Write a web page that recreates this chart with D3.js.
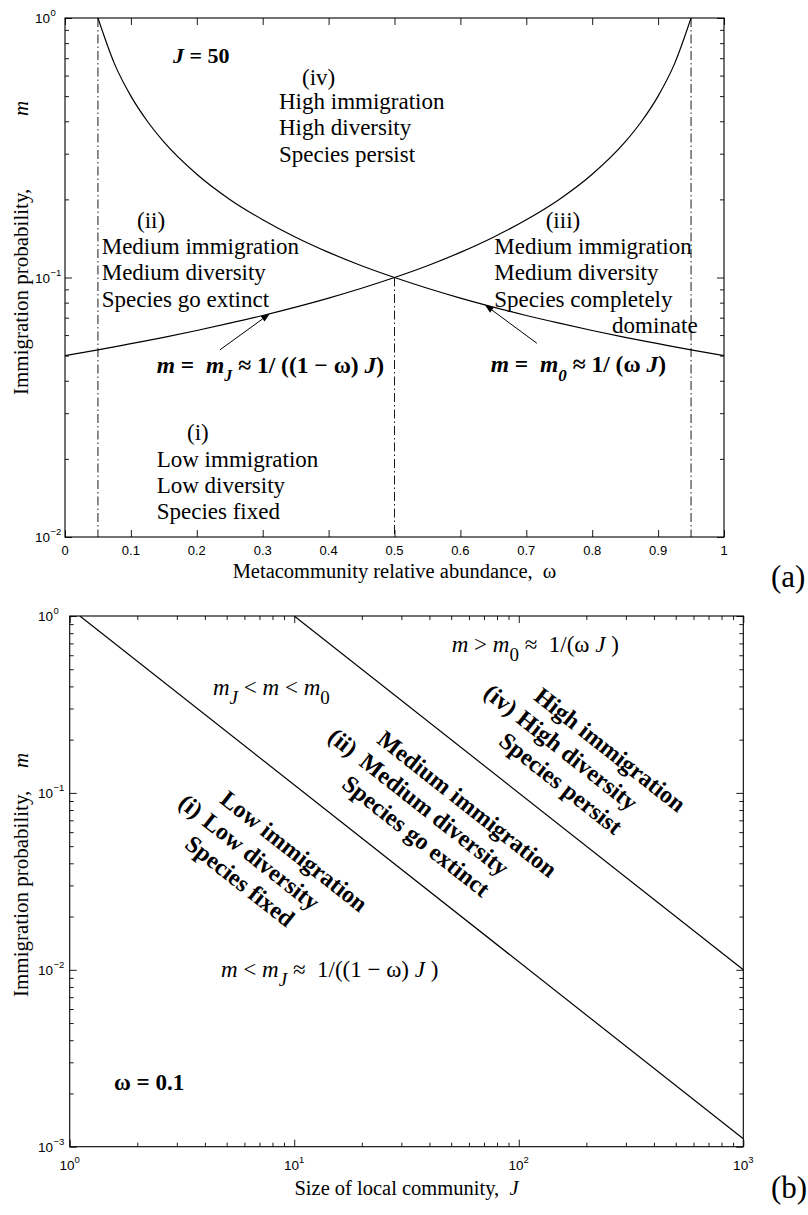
<!DOCTYPE html>
<html>
<head>
<meta charset="utf-8">
<script src="https://cdn.jsdelivr.net/npm/d3@7"></script>
<style>
  body { margin: 0; background: #fff; }
  svg { display: block; }
  text { white-space: pre; }
</style>
</head>
<body>
<svg id="fig" width="808" height="1215"></svg>
<script>
// ---------- Panel (a): immigration thresholds against metacommunity abundance ----------
const omegaRise = [0, 0.05, 0.1, 0.15, 0.2, 0.25, 0.3, 0.35, 0.4, 0.45, 0.5, 0.55, 0.6, 0.65, 0.7, 0.75, 0.8, 0.85, 0.875, 0.9, 0.925, 0.95];
const mJ        = [0.050, 0.0526, 0.0556, 0.0588, 0.0625, 0.0667, 0.0714, 0.0769, 0.0833, 0.0909, 0.100, 0.111, 0.125, 0.143, 0.167, 0.200, 0.250, 0.333, 0.400, 0.500, 0.667, 1.000];
const omegaFall = [0.05, 0.075, 0.1, 0.125, 0.15, 0.2, 0.25, 0.3, 0.35, 0.4, 0.45, 0.5, 0.55, 0.6, 0.65, 0.7, 0.75, 0.8, 0.85, 0.9, 0.95, 1.0];
const m0        = [1.000, 0.667, 0.500, 0.400, 0.333, 0.250, 0.200, 0.167, 0.143, 0.125, 0.111, 0.100, 0.0909, 0.0833, 0.0769, 0.0714, 0.0667, 0.0625, 0.0588, 0.0556, 0.0526, 0.050];
const guideOmega = [0.05, 0.5, 0.95];   // dash-dot verticals
const guideTop   = [1, 0.1, 1];          // each runs from here down to m = 0.01
const arrowJ = { from: [0.235, 0.0526], to: [0.311, 0.0726] };
const arrow0 = { from: [0.716, 0.0558], to: [0.637, 0.0785] };
const omegaTicks = [0, 0.1, 0.2, 0.3, 0.4, 0.5, 0.6, 0.7, 0.8, 0.9, 1];
const omegaTickLabels = ["0", "0.1", "0.2", "0.3", "0.4", "0.5", "0.6", "0.7", "0.8", "0.9", "1"];
const mDecadesA = [-2, -1, 0];

// ---------- Panel (b): thresholds against local community size (omega = 0.1) ----------
const sizeLow  = [1.11, 1000];
const mLow     = [1, 0.00111];
const sizeHigh = [10, 1000];
const mHigh    = [1, 0.01];
const sizeDecades = [0, 1, 2, 3];
const mDecadesB   = [-3, -2, -1, 0];

const SERIF = "'Liberation Serif','Times New Roman',Times,serif";
const SANS  = "'Liberation Sans',Arial,Helvetica,sans-serif";
const svg = d3.select("#fig");

// text built from styled runs: flags "it", "bd", "sub", "sup"
function rich(g, x, y, runs, o = {}) {
  const t = g.append("text").attr("x", x).attr("y", y)
    .attr("font-family", o.family || SERIF)
    .attr("font-size", o.size || 23)
    .attr("text-anchor", o.anchor || "start")
    .attr("fill", "#000");
  if (o.bold) t.attr("font-weight", "bold");
  if (o.transform) t.attr("transform", o.transform);
  let cur = 0;
  runs.forEach(([s, flags = ""]) => {
    const f = flags.split(" ");
    const sp = t.append("tspan").text(s);
    let off = 0;
    if (f.includes("sub")) off = o.subDy || 8;
    if (f.includes("sup")) off = -(o.supDy || 7);
    if (off !== cur) { sp.attr("dy", off - cur); cur = off; }
    if (f.includes("it")) sp.attr("font-style", "italic");
    if (f.includes("bd")) sp.attr("font-weight", "bold");
    if (f.includes("sub") || f.includes("sup")) sp.attr("font-size", o.subSize || 16);
  });
  return t;
}

function minorLog(decades) {
  const v = [];
  for (let i = 0; i < decades.length - 1; i++)
    for (let k = 2; k <= 9; k++) v.push(k * Math.pow(10, decades[i]));
  return v;
}

// inward ticks on all four sides, drawn with d3 axes
function boxTicks(g, x, y, w, h, spec) {
  const put = (axis, tr, vals, size) => {
    if (!vals.length) return;
    const a = g.append("g").attr("transform", tr)
      .call(axis.tickValues(vals).tickSize(size).tickFormat(""));
    a.select(".domain").remove();
    a.selectAll("line").attr("stroke", "#000").attr("stroke-width", 0.9);
  };
  [[spec.xMajor, -7], [spec.xMinor, -4]].forEach(([v, s]) => {
    put(d3.axisBottom(x), `translate(0,${h})`, v, s);
    put(d3.axisTop(x), `translate(0,0)`, v, s);
  });
  [[spec.yMajor, -7], [spec.yMinor, -4]].forEach(([v, s]) => {
    put(d3.axisLeft(y), `translate(0,0)`, v, s);
    put(d3.axisRight(y), `translate(${w},0)`, v, s);
  });
  g.append("rect").attr("width", w).attr("height", h)
    .attr("fill", "none").attr("stroke", "#000").attr("stroke-width", 1.1);
}

function arrow(g, p0, p1) {
  const dx = p1[0] - p0[0], dy = p1[1] - p0[1];
  const L = Math.hypot(dx, dy), ux = dx / L, uy = dy / L;
  const hl = 9, hw = 3.2;
  const bx = p1[0] - ux * hl, by = p1[1] - uy * hl;
  g.append("line").attr("x1", p0[0]).attr("y1", p0[1]).attr("x2", bx).attr("y2", by)
    .attr("stroke", "#000").attr("stroke-width", 1);
  g.append("path")
    .attr("d", `M${p1[0]},${p1[1]}L${bx - uy * hw},${by + ux * hw}L${bx + uy * hw},${by - ux * hw}Z`)
    .attr("fill", "#000");
}

// ================= Panel (a) =================
{
  const L = 65, T = 18, W = 659, H = 519;
  const g = svg.append("g").attr("transform", `translate(${L},${T})`);
  const x = d3.scaleLinear().domain([0, 1]).range([0, W]);
  const y = d3.scaleLog().domain([0.01, 1]).range([H, 0]);

  g.append("clipPath").attr("id", "clipA").append("rect").attr("width", W).attr("height", H);
  const plot = g.append("g").attr("clip-path", "url(#clipA)");

  // dash-dot guides
  guideOmega.forEach((w, i) => {
    plot.append("line").attr("x1", x(w)).attr("x2", x(w))
      .attr("y1", y(guideTop[i])).attr("y2", y(0.01))
      .attr("stroke", "#000").attr("stroke-width", 0.9)
      .attr("stroke-dasharray", "9,3,1.5,3");
  });

  const line = d3.line().x(d => x(d[0])).y(d => y(d[1])).curve(d3.curveMonotoneX);
  plot.append("path").datum(d3.zip(omegaRise, mJ)).attr("d", line)
    .attr("fill", "none").attr("stroke", "#000").attr("stroke-width", 1.2);
  plot.append("path").datum(d3.zip(omegaFall, m0)).attr("d", line)
    .attr("fill", "none").attr("stroke", "#000").attr("stroke-width", 1.2);

  boxTicks(g, x, y, W, H, {
    xMajor: omegaTicks, xMinor: [],
    yMajor: mDecadesA.map(d => Math.pow(10, d)), yMinor: minorLog(mDecadesA)
  });

  // tick labels
  omegaTicks.forEach((v, i) => {
    g.append("text").attr("x", x(v)).attr("y", H + 17.5).attr("text-anchor", "middle")
      .attr("font-family", SANS).attr("font-size", 13).text(omegaTickLabels[i]);
  });
  mDecadesA.forEach(d => {
    const yy = y(Math.pow(10, d));
    g.append("text").attr("x", -15).attr("y", yy + 5).attr("text-anchor", "end")
      .attr("font-family", SANS).attr("font-size", 13.5).text("10");
    g.append("text").attr("x", -14.5).attr("y", yy - 2).attr("text-anchor", "start")
      .attr("font-family", SANS).attr("font-size", 9.5).text(String(d).replace("-", "\u2212"));
  });

  // axis titles
  g.append("text").attr("x", W / 2).attr("y", 560).attr("text-anchor", "middle")
    .attr("font-family", SERIF).attr("font-size", 20.5)
    .text("Metacommunity relative abundance,  \u03c9");
  svg.append("text").attr("transform", "translate(28,395) rotate(-90)")
    .attr("font-family", SERIF).attr("font-size", 21).text("Immigration probability,");
  svg.append("text").attr("transform", "translate(28,116) rotate(-90)")
    .attr("font-family", SERIF).attr("font-size", 21).attr("font-style", "italic").text("m");

  // annotations
  rich(g, 108, 45, [["J", "it"], [" = 50"]], { bold: true, size: 22 });

  const block = (x0, y0, lines, lh) => lines.forEach((s, k) =>
    g.append("text").attr("x", x0).attr("y", y0 + k * lh)
      .attr("font-family", SERIF).attr("font-size", 23).text(s));

  g.append("text").attr("x", 237).attr("y", 66.5).attr("font-family", SERIF).attr("font-size", 23).text("(iv)");
  block(214, 91, ["High immigration", "High diversity", "Species persist"], 26.3);

  g.append("text").attr("x", 72).attr("y", 210).attr("font-family", SERIF).attr("font-size", 23).text("(ii)");
  block(36.7, 236, ["Medium immigration", "Medium diversity", "Species go extinct"], 26.3);

  g.append("text").attr("x", 480.7).attr("y", 210).attr("font-family", SERIF).attr("font-size", 23).text("(iii)");
  block(429.3, 236, ["Medium immigration", "Medium diversity", "Species completely"], 26.3);
  g.append("text").attr("x", 632.7).attr("y", 314.5).attr("text-anchor", "end")
    .attr("font-family", SERIF).attr("font-size", 23).text("dominate");

  g.append("text").attr("x", 122).attr("y", 421.5).attr("font-family", SERIF).attr("font-size", 23).text("(i)");
  block(91.7, 448.7, ["Low immigration", "Low diversity", "Species fixed"], 26.0);

  rich(g, 91.7, 355.3, [["m", "it"], [" =  "], ["m", "it"], ["J", "it sub"], [" \u2248 1/ ((1 \u2212 \u03c9) "], ["J", "it"], [")"]],
    { bold: true, size: 23.5, subSize: 16, subDy: 8 });
  rich(g, 425.7, 353.7, [["m", "it"], [" =  "], ["m", "it"], ["0", "it sub"], [" \u2248 1/ (\u03c9 "], ["J", "it"], [")"]],
    { bold: true, size: 23.5, subSize: 17, subDy: 9 });

  arrow(g, [x(arrowJ.from[0]), y(arrowJ.from[1])], [x(arrowJ.to[0]), y(arrowJ.to[1])]);
  arrow(g, [x(arrow0.from[0]), y(arrow0.from[1])], [x(arrow0.to[0]), y(arrow0.to[1])]);

  svg.append("text").attr("x", 771).attr("y", 587).attr("font-family", SERIF)
    .attr("font-size", 31).text("(a)");
}

// ================= Panel (b) =================
{
  const L = 69.7, T = 616, W = 673.6, H = 530.7;
  const g = svg.append("g").attr("transform", `translate(${L},${T})`);
  const x = d3.scaleLog().domain([1, 1000]).range([0, W]);
  const y = d3.scaleLog().domain([0.001, 1]).range([H, 0]);

  g.append("clipPath").attr("id", "clipB").append("rect").attr("width", W).attr("height", H);
  const plot = g.append("g").attr("clip-path", "url(#clipB)");
  const line = d3.line().x(d => x(d[0])).y(d => y(d[1]));
  plot.append("path").datum(d3.zip(sizeLow, mLow)).attr("d", line)
    .attr("fill", "none").attr("stroke", "#000").attr("stroke-width", 1.2);
  plot.append("path").datum(d3.zip(sizeHigh, mHigh)).attr("d", line)
    .attr("fill", "none").attr("stroke", "#000").attr("stroke-width", 1.2);

  boxTicks(g, x, y, W, H, {
    xMajor: sizeDecades.map(d => Math.pow(10, d)), xMinor: minorLog(sizeDecades),
    yMajor: mDecadesB.map(d => Math.pow(10, d)), yMinor: minorLog(mDecadesB)
  });

  sizeDecades.forEach(d => {
    const xx = x(Math.pow(10, d));
    const t = g.append("text").attr("x", xx).attr("y", H + 23.5).attr("text-anchor", "middle")
      .attr("font-family", SANS).attr("font-size", 13.5);
    t.append("tspan").text("10");
    t.append("tspan").attr("dy", -7).attr("font-size", 9.5).text(String(d));
  });
  mDecadesB.forEach(d => {
    const yy = y(Math.pow(10, d));
    g.append("text").attr("x", -16.7).attr("y", yy + 5).attr("text-anchor", "end")
      .attr("font-family", SANS).attr("font-size", 13.5).text("10");
    g.append("text").attr("x", -16.2).attr("y", yy - 2).attr("text-anchor", "start")
      .attr("font-family", SANS).attr("font-size", 9.5).text(String(d).replace("-", "\u2212"));
  });

  rich(g, W / 2, 579, [["Size of local community,  "], ["J", "it"]], { size: 20.5, anchor: "middle" });
  svg.append("text").attr("transform", "translate(28,997) rotate(-90)")
    .attr("font-family", SERIF).attr("font-size", 21).text("Immigration probability,");
  svg.append("text").attr("transform", "translate(28,768) rotate(-90)")
    .attr("font-family", SERIF).attr("font-size", 21).attr("font-style", "italic").text("m");

  // region formulas
  rich(g, 143.3, 79, [["m", "it"], ["J", "it sub"], [" < "], ["m", "it"], [" < "], ["m", "it"], ["0", "sub"]],
    { size: 23, subSize: 19, subDy: 9 });
  rich(g, 382, 35.7, [["m", "it"], [" > "], ["m", "it"], ["0", "sub"], [" \u2248  1/(\u03c9 "], ["J", "it"], [" )"]],
    { size: 23, subSize: 19, subDy: 9 });
  rich(g, 151.3, 360.7, [["m", "it"], [" < "], ["m", "it"], ["J", "it sub"], [" \u2248  1/((1 \u2212 \u03c9) "], ["J", "it"], [" )"]],
    { size: 23, subSize: 19, subDy: 9 });
  rich(g, 44.3, 474, [["\u03c9 = 0.1"]], { size: 23, bold: true });

  // rotated regime labels aligned with the boundary lines
  const angle = Math.atan2(y(mLow[1]) - y(mLow[0]), x(sizeLow[1]) - x(sizeLow[0])) * 180 / Math.PI;
  const blocks = [
    { at: [463, 83],  prefix: "(iv)", gap: 7,  lines: ["High immigration", "High diversity", "Species persist"] },
    { at: [306, 126], prefix: "(ii)", gap: 11, lines: ["Medium immigration", "Medium diversity", "Species go extinct"] },
    { at: [149, 186], prefix: "(i)",  gap: 8,  lines: ["Low immigration", "Low diversity", "Species fixed"] }
  ];
  blocks.forEach(b => {
    const bg = g.append("g").attr("transform", `translate(${b.at[0]},${b.at[1]}) rotate(${angle})`);
    b.lines.forEach((s, k) => bg.append("text").attr("x", 0).attr("y", k * 28.5)
      .attr("font-family", SERIF).attr("font-size", 24).attr("font-weight", "bold").text(s));
    bg.append("text").attr("x", -b.gap).attr("y", 28.5).attr("text-anchor", "end")
      .attr("font-family", SERIF).attr("font-size", 24).attr("font-weight", "bold").text(b.prefix);
  });

  svg.append("text").attr("x", 771).attr("y", 1198).attr("font-family", SERIF)
    .attr("font-size", 31).text("(b)");
}
</script>
</body>
</html>
